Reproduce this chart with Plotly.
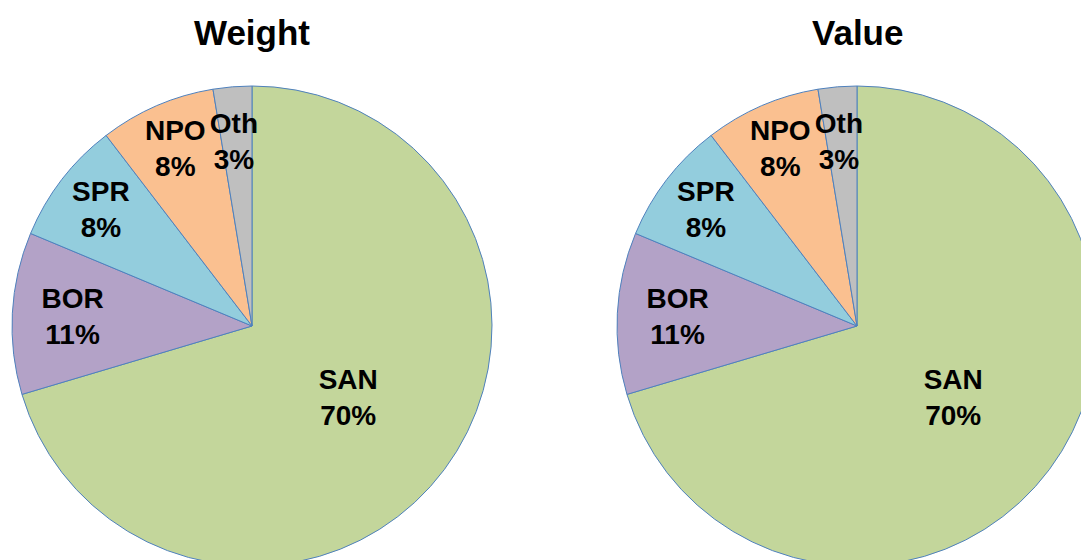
import plotly.graph_objects as go

# dados
categorias = ["SAN", "BOR", "SPR", "NPO", "Oth"]
peso = [70.4, 10.9, 8.3, 7.8, 2.6]
valor = [70.4, 10.9, 8.3, 7.8, 2.6]
titulos = ["Weight", "Value"]

cores = ["#C3D69B", "#B3A2C7", "#93CDDD", "#FAC090", "#BFBFBF"]
fonte = "Liberation Sans, Arial, sans-serif"

# a figura é um pouco maior que a janela: as pizzas saem pela borda como no original
W, H = 1100, 580


def px_dom(x0, x1, y0, y1):
    return dict(x=[x0 / W, x1 / W], y=[(H - y1) / H, (H - y0) / H])


# a fatia "Oth" é estreita; as linhas em branco descem o rótulo para dentro da pizza
modelo = ["%{label}<br>%{percent:.0%}"] * 4 + ["\u00a0<br>\u00a0<br>%{label}<br>%{percent:.0%}"]

fig = go.Figure()

for serie, dom in [(peso, px_dom(12, 492, 86, 566)), (valor, px_dom(617, 1097, 86, 566))]:
    fig.add_trace(go.Pie(
        labels=categorias,
        values=serie,
        sort=False,
        direction="clockwise",
        rotation=0,
        domain=dom,
        marker=dict(colors=cores, line=dict(color="#4F81BD", width=1)),
        texttemplate=modelo,
        textposition="inside",
        insidetextorientation="horizontal",
        textfont=dict(family=fonte, size=28, color="black", weight="bold"),
        hoverinfo="label+percent",
        showlegend=False,
    ))

for titulo, cx in zip(titulos, [252, 857]):
    fig.add_annotation(
        text=titulo, x=cx / W, y=(H - 33) / H, xref="paper", yref="paper",
        xanchor="center", yanchor="middle", showarrow=False,
        font=dict(family=fonte, size=35, color="black", weight="bold"),
    )

fig.update_layout(
    width=W,
    height=H,
    margin=dict(l=0, r=0, t=0, b=0),
    paper_bgcolor="white",
    plot_bgcolor="white",
    uniformtext=dict(minsize=28, mode="show"),
)

fig.write_html(
    "out.html",
    config={"displayModeBar": False},
    post_script="document.body.style.margin='0';document.body.style.overflow='hidden';",
)
